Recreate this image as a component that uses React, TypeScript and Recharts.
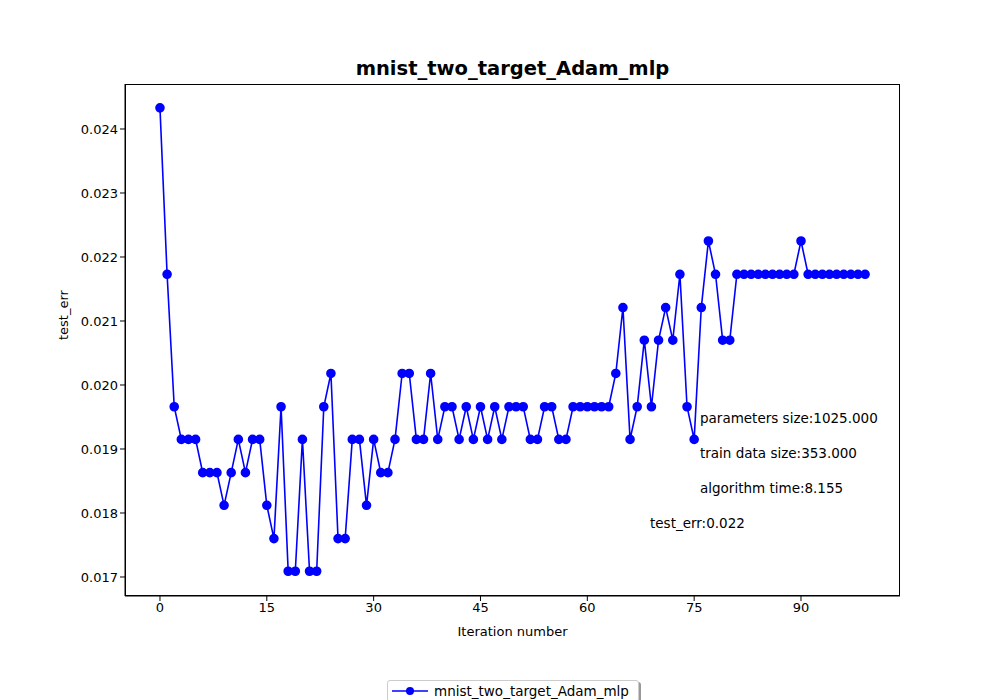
import React from 'react';
import { LineChart, Line, XAxis, YAxis } from 'recharts';

const iterations = Array.from({ length: 100 }, (_, i) => i);
const testErr = [
  0.02433, 0.02173, 0.01966, 0.01915, 0.01915, 0.01915, 0.01863, 0.01863, 0.01863, 0.01812,
  0.01863, 0.01915, 0.01863, 0.01915, 0.01915, 0.01812, 0.0176, 0.01966, 0.01709, 0.01709,
  0.01915, 0.01709, 0.01709, 0.01966, 0.02018, 0.0176, 0.0176, 0.01915, 0.01915, 0.01812,
  0.01915, 0.01863, 0.01863, 0.01915, 0.02018, 0.02018, 0.01915, 0.01915, 0.02018, 0.01915,
  0.01966, 0.01966, 0.01915, 0.01966, 0.01915, 0.01966, 0.01915, 0.01966, 0.01915, 0.01966,
  0.01966, 0.01966, 0.01915, 0.01915, 0.01966, 0.01966, 0.01915, 0.01915, 0.01966, 0.01966,
  0.01966, 0.01966, 0.01966, 0.01966, 0.02018, 0.02121, 0.01915, 0.01966, 0.0207, 0.01966,
  0.0207, 0.02121, 0.0207, 0.02173, 0.01966, 0.01915, 0.02121, 0.02225, 0.02173, 0.0207,
  0.0207, 0.02173, 0.02173, 0.02173, 0.02173, 0.02173, 0.02173, 0.02173, 0.02173, 0.02173,
  0.02225, 0.02173, 0.02173, 0.02173, 0.02173, 0.02173, 0.02173, 0.02173, 0.02173, 0.02173,
];
const xTicks = [0, 15, 30, 45, 60, 75, 90];
const yTicks = [0.017, 0.018, 0.019, 0.02, 0.021, 0.022, 0.023, 0.024];
const notes = ['parameters size:1025.000', 'train data size:353.000', 'algorithm time:8.155'];
const finalNote = 'test_err:0.022';

const data = iterations.map((it, i) => ({ it, err: testErr[i] }));
const font = 'DejaVu Sans, sans-serif';

export default function App() {
  return (
    <div style={{ position: 'absolute', left: 0, top: 0, width: 1000, height: 700, fontFamily: font, background: '#fff' }}>
      <div style={{ position: 'absolute', top: 57, width: 1000, textAlign: 'center', paddingLeft: 25, boxSizing: 'border-box', fontWeight: 'bold', fontSize: 19.5 }}>
        mnist_two_target_Adam_mlp
      </div>
      <LineChart width={1000} height={700} data={data} margin={{ top: 84, right: 100, left: 65, bottom: 74 }}>
        <XAxis
          dataKey="it" type="number" domain={[-4.91, 103.9]} ticks={xTicks} allowDataOverflow
          stroke="#000" tick={{ fill: '#000', fontSize: 13, fontFamily: font }} tickSize={5} height={30}
          label={{ value: 'Iteration number', position: 'insideBottom', offset: -10, fill: '#000', fontSize: 13 }}
        />
        <YAxis
          type="number" domain={[0.016703, 0.024703]} ticks={yTicks} allowDataOverflow width={60}
          tickFormatter={(v: number) => v.toFixed(3)}
          stroke="#000" tick={{ fill: '#000', fontSize: 13, fontFamily: font }} tickSize={5}
          label={{ value: 'test_err', angle: -90, position: 'insideLeft', offset: -2, fill: '#000', fontSize: 13 }}
        />
        <Line
          dataKey="err" stroke="#0000ff" strokeWidth={1.6} isAnimationActive={false}
          dot={{ r: 4, fill: '#0000ff', stroke: '#0000ff' }}
        />
      </LineChart>
      <div style={{ position: 'absolute', left: 125, top: 84, width: 775, height: 512, border: '1px solid #000', boxSizing: 'border-box', pointerEvents: 'none' }} />
      {notes.map((n, i) => (
        <div key={n} style={{ position: 'absolute', left: 700, top: 410 + i * 35, fontSize: 13.5 }}>{n}</div>
      ))}
      <div style={{ position: 'absolute', left: 650, top: 515, fontSize: 13.5 }}>{finalNote}</div>
      <div style={{ position: 'absolute', left: 387, top: 680, width: 250, height: 20, border: '1px solid #ccc', borderRadius: 3, boxShadow: '2px 2px 0 #999', display: 'flex', alignItems: 'center', fontSize: 13.5, background: '#fff' }}>
        <svg width={40} height={14} style={{ marginLeft: 2 }}>
          <line x1={2} y1={7} x2={38} y2={7} stroke="#0000ff" strokeWidth={1.6} />
          <circle cx={20} cy={7} r={4} fill="#0000ff" />
        </svg>
        <span style={{ marginLeft: 4 }}>mnist_two_target_Adam_mlp</span>
      </div>
    </div>
  );
}
